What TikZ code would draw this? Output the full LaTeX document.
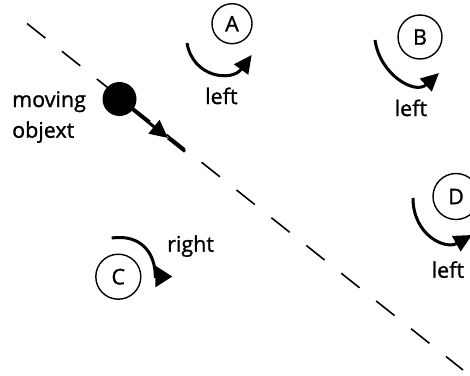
\documentclass[tikz,border=0pt]{standalone}
\usepackage{fontspec}
\setmainfont{Open Sans}[FakeBold=1.2]
\usetikzlibrary{arrows.meta}

\tikzset{
  lbl/.style={anchor=base west, inner sep=0pt, font=\fontsize{21.5}{25}\selectfont},
  marker/.style={draw, circle, line width=1.4pt, minimum size=42pt, inner sep=0pt,
                 font=\fontsize{21.5}{25}\selectfont},
  spin/.style={line width=3pt, -{Triangle[length=18pt,width=17pt]}},
  track/.style={line width=1.6pt, dash pattern=on 23.4pt off 21.2pt},
  motion/.style={line width=3pt},
}

\begin{document}
\begin{tikzpicture}[x=1pt, y=-1pt]
  \useasboundingbox (0,0) rectangle (470,375);
  \fill[white] (0,0) rectangle (470,375);
  \clip (0,0) rectangle (470,375);

  % straight path of the moving object
  \coordinate (trackstart) at (27,23.5);
  \coordinate (trackend) at (463,370);
  \draw[track] (trackstart) -- (trackend);

  % the moving object and its direction of travel
  \node[circle, fill=black, minimum size=34pt, inner sep=0pt] (obj) at (119.5,99) {};
  \coordinate (heading) at (168,138);
  \coordinate (trail) at (185,151.5);
  \draw[motion, -{Triangle[length=18pt,width=17pt]}] (obj.center) -- (heading);
  \draw[motion] (heading) -- (trail);
  \node[lbl] (mlabel1) at (12,107) {moving};
  \node[lbl] (mlabel2) at (12,137.7) {objext};

  % observers
  \node[marker, minimum size=40pt] (A) at (232,23.7) {A};
  \node[marker, minimum size=44pt] (B) at (420,37) {B};
  \node[marker, minimum size=45pt] (C) at (118.3,276.7) {C};
  \node[marker, minimum size=46pt] (D) at (456,196.5) {D};

  % apparent rotation around each observer
  \begin{scope}[shift={(A.center)}]
    \draw[spin] (-45,19.3) .. controls (-39,54.3) and (0,58.3) .. (19.7,31.3);
  \end{scope}
  \begin{scope}[shift={(B.center)}]
    \draw[spin] (-45,3) .. controls (-40,38) and (-5,58) .. (19,36);
  \end{scope}
  \begin{scope}[shift={(C.center)}]
    \draw[line width=3pt, -{Triangle[length=17pt,width=21pt]}]
      (-6.6,-38.7) .. controls (21.7,-42.7) and (37,-24.7) .. (37,-0.2) -- (54,-0.2);
  \end{scope}
  \begin{scope}[shift={(D.center)}]
    \draw[spin] (-43,1.5) .. controls (-43,38.5) and (-11,53.5) .. (16,38.5);
  \end{scope}

  % direction labels
  \node[lbl] (la) at (205,104) {left};
  \node[lbl] (lb) at (394.5,116) {left};
  \node[lbl] (lc) at (167,251.7) {right};
  \node[lbl] (ld) at (431.5,277.7) {left};
\end{tikzpicture}
\end{document}
